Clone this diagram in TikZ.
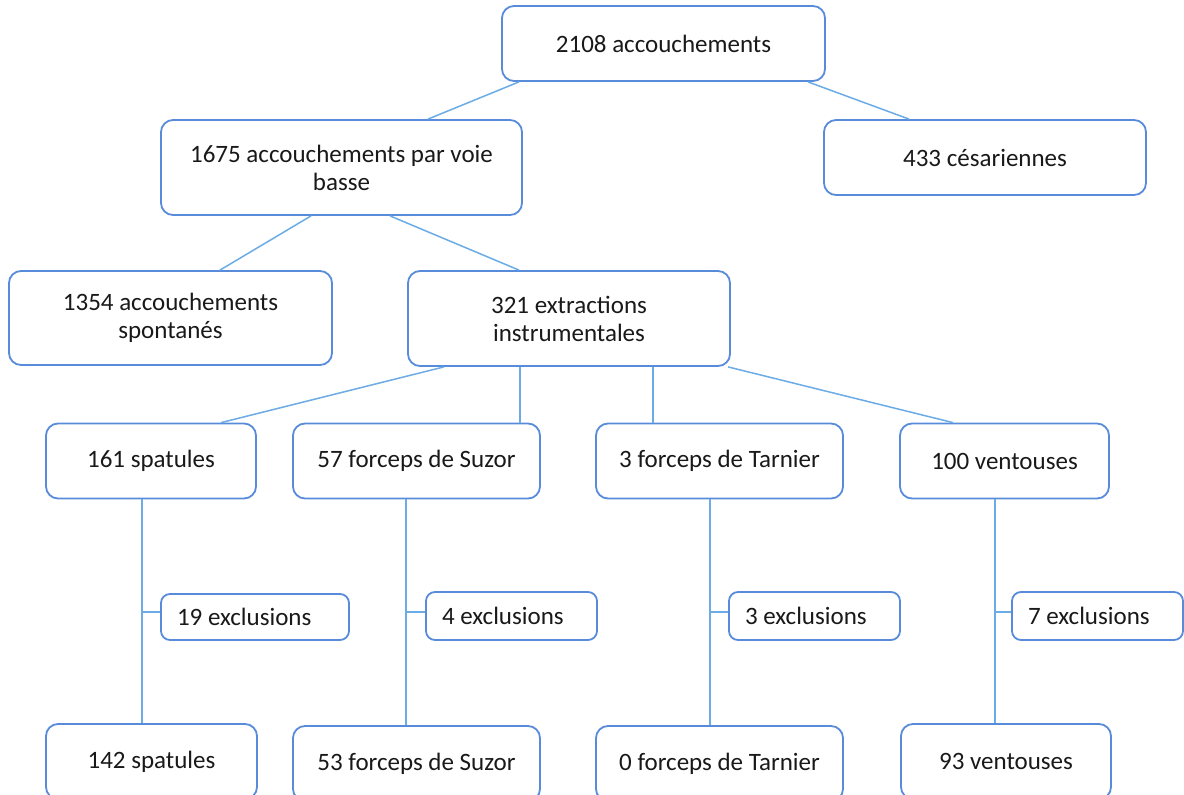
\documentclass[tikz,border=0pt]{standalone}
\usepackage{fontspec}
\setmainfont{Carlito}
\usetikzlibrary{calc}
\definecolor{boxblue}{RGB}{88,140,218}
\definecolor{linkblue}{RGB}{108,172,230}
\begin{document}
\begin{tikzpicture}[x=1pt,y=-1pt,
  box/.style={draw=boxblue, line width=1.8pt, rounded corners=12pt, fill=white,
    inner sep=0pt, align=center, font=\fontsize{25}{28}\selectfont, text=black!90},
  exbox/.style={draw=boxblue, line width=1.8pt, rounded corners=9pt, fill=white,
    inner xsep=16pt, inner ysep=0pt, font=\fontsize{25}{28}\selectfont, text=black!90},
  link/.style={draw=linkblue, line width=1.5pt}]
\useasboundingbox (0,0) rectangle (1184,795);
\clip (0,0) rectangle (1184,795);
\fill[white] (0,0) rectangle (1184,795);

% level 0
\node[box, minimum width=323pt, minimum height=75pt] (top) at (663.5,43.5) {2108 accouchements};
% level 1
\node[box, minimum width=361pt, minimum height=95pt] (vb) at (341.5,167.5) {1675 accouchements par voie\\basse};
\node[box, minimum width=322pt, minimum height=75pt] (ces) at (985,157.5) {433 césariennes};
% level 2
\node[box, minimum width=323pt, minimum height=94pt] (spont) at (170.5,318) {1354 accouchements\\spontanés};
\node[box, minimum width=322pt, minimum height=95pt] (ext) at (569,318.5) {321 extractions\\instrumentales};
% level 3
\node[box, minimum width=210pt, minimum height=75pt] (spat) at (151,461) {161 spatules};
\node[box, minimum width=247pt, minimum height=75pt] (suz) at (416.5,461) {57 forceps de Suzor};
\node[box, minimum width=247pt, minimum height=75pt] (tar) at (719.5,461) {3 forceps de Tarnier};
\node[box, minimum width=209pt, minimum height=75pt] (ven) at (1004.5,461) {100 ventouses};
% exclusions
\node[exbox, minimum height=46pt] (ex1) at (255,617) {\makebox[156pt][l]{19 exclusions}};
\node[exbox, minimum height=48pt] (ex2) at (511.5,616) {\makebox[139pt][l]{4 exclusions}};
\node[exbox, minimum height=48pt] (ex3) at (814.5,616) {\makebox[139pt][l]{3 exclusions}};
\node[exbox, minimum height=48pt] (ex4) at (1097.5,616) {\makebox[139pt][l]{7 exclusions}};
% bottom
\node[box, minimum width=211pt, minimum height=75pt] (spat2) at (151.5,761.5) {142 spatules};
\node[box, minimum width=247pt, minimum height=75pt] (suz2) at (416.5,763.5) {53 forceps de Suzor};
\node[box, minimum width=247pt, minimum height=75pt] (tar2) at (719.5,763.5) {0 forceps de Tarnier};
\node[box, minimum width=210pt, minimum height=75pt] (ven2) at (1006,761.5) {93 ventouses};

% connectors upper tree
\draw[link] ([xshift=-144.5pt]top.south) -- ([xshift=86.5pt]vb.north);
\draw[link] ([xshift=144.5pt]top.south) -- ([xshift=-76pt]ces.north);
\draw[link] ([xshift=-30.5pt]vb.south) -- ([xshift=49.5pt]spont.north);
\draw[link] ([xshift=48.5pt]vb.south) -- ([xshift=-50pt]ext.north);
\draw[link] ([xshift=-125pt]ext.south) -- ([xshift=70pt]spat.north);
\draw[link] ([xshift=-49pt]ext.south) -- ([xshift=103.5pt]suz.north);
\draw[link] ([xshift=84pt]ext.south) -- ([xshift=-66.5pt]tar.north);
\draw[link] ([xshift=159pt]ext.south) -- ([xshift=-51.5pt]ven.north);

% spines
\coordinate (s1) at ([xshift=-9pt]spat.south);
\coordinate (s2) at ([xshift=-10.5pt]suz.south);
\coordinate (s3) at ([xshift=-9.5pt]tar.south);
\coordinate (s4) at ([xshift=-9.5pt]ven.south);
\draw[link] (s1) -- (s1 |- spat2.north);
\draw[link] (s2) -- (s2 |- suz2.north);
\draw[link] (s3) -- (s3 |- tar2.north);
\draw[link] (s4) -- (s4 |- ven2.north);

% ticks to exclusions
\coordinate (t1) at ([yshift=5pt]ex1.west);
\coordinate (t2) at ([yshift=4pt]ex2.west);
\coordinate (t3) at ([yshift=4pt]ex3.west);
\coordinate (t4) at ([yshift=4pt]ex4.west);
\draw[link] (t1) -- (t1 -| s1);
\draw[link] (t2) -- (t2 -| s2);
\draw[link] (t3) -- (t3 -| s3);
\draw[link] (t4) -- (t4 -| s4);
\end{tikzpicture}
\end{document}
